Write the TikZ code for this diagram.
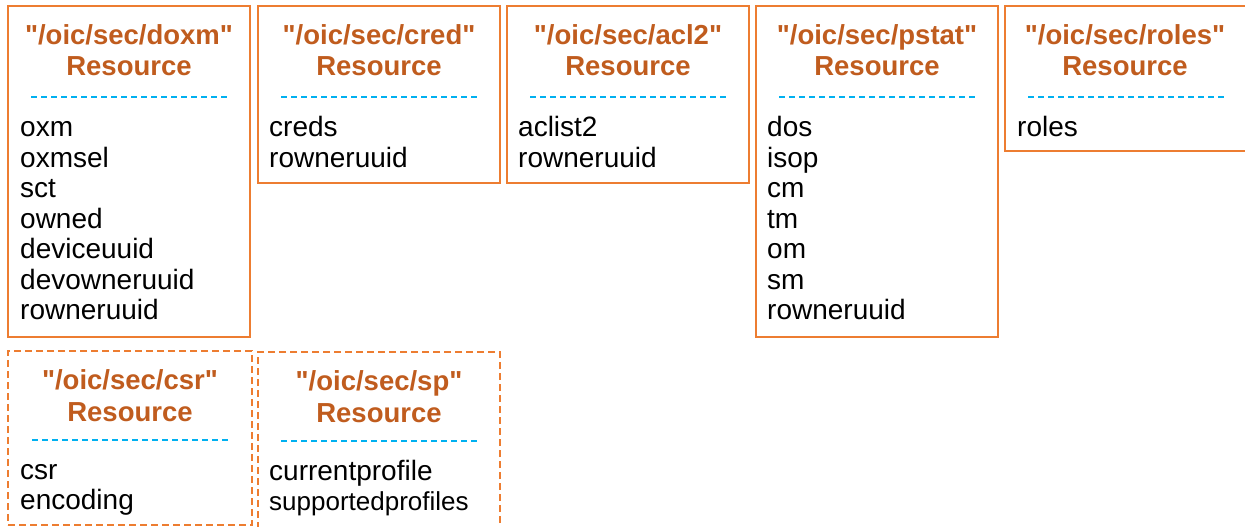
\documentclass[tikz,border=0pt]{standalone}
\usepackage{fontspec}
\setmainfont{Liberation Sans}[Ligatures=TeXOff]
\definecolor{resorange}{HTML}{ED7D31}
\definecolor{restitlecol}{HTML}{C05C1E}
\definecolor{sepblue}{HTML}{00B0F0}

\begin{document}
\begin{tikzpicture}[x=1pt, y=-1pt,
    resbox/.style={draw=resorange, line width=2.4pt, minimum width=242pt, inner sep=0pt},
    optbox/.style={resbox, dash pattern=on 7pt off 4pt},
    restitle/.style={anchor=base, align=center, inner sep=0pt, text=restitlecol, font=\fontsize{27.5}{31.5}\selectfont\bfseries},
    sepline/.style={draw=sepblue, line width=2.2pt, dash pattern=on 6pt off 4pt},
    field/.style={anchor=base west, inner sep=0pt, font=\fontsize{28}{30.5}\selectfont}]
    \useasboundingbox (0,0) rectangle (1245,527);

    % Upper row: mandatory resources
    \node[resbox, minimum height=331pt] (doxm) at (129,171.5) {};
    \node[restitle] (doxm-title) at (129,75.5) {"/oic/sec/doxm"\\Resource};
    \draw[sepline] (31,97) -- (227,97);
    \foreach \f [count=\i] in {oxm, oxmsel, sct, owned, deviceuuid, devowneruuid, rowneruuid}
        \node[field] (doxm-\i) at (20,{136.5+30.5*(\i-1)}) {\f};

    \node[resbox, minimum height=177pt] (cred) at (379,94.5) {};
    \node[restitle] (cred-title) at (379,75.5) {"/oic/sec/cred"\\Resource};
    \draw[sepline] (281,97) -- (477,97);
    \foreach \f [count=\i] in {creds, rowneruuid}
        \node[field] (cred-\i) at (269,{136.5+30.5*(\i-1)}) {\f};

    \node[resbox, minimum height=177pt] (acl2) at (628,94.5) {};
    \node[restitle] (acl2-title) at (628,75.5) {"/oic/sec/acl2"\\Resource};
    \draw[sepline] (530,97) -- (726,97);
    \foreach \f [count=\i] in {aclist2, rowneruuid}
        \node[field] (acl2-\i) at (518,{136.5+30.5*(\i-1)}) {\f};

    \node[resbox, minimum height=331pt] (pstat) at (877,171.5) {};
    \node[restitle] (pstat-title) at (877,75.5) {"/oic/sec/pstat"\\Resource};
    \draw[sepline] (779,97) -- (975,97);
    \foreach \f [count=\i] in {dos, isop, cm, tm, om, sm, rowneruuid}
        \node[field] (pstat-\i) at (767,{136.5+30.5*(\i-1)}) {\f};

    \node[resbox, minimum height=145pt] (roles) at (1126,78.5) {};
    \node[restitle] (roles-title) at (1125,75.5) {"/oic/sec/roles"\\Resource};
    \draw[sepline] (1028,97) -- (1224,97);
    \node[field] (roles-1) at (1017,136.5) {roles};

    % Lower row: optional resources (dashed)
    \node[optbox, minimum width=244pt, minimum height=174pt] (csr) at (130,438) {};
    \node[restitle] (csr-title) at (130,421) {"/oic/sec/csr"\\Resource};
    \draw[sepline] (32,440) -- (228,440);
    \foreach \f [count=\i] in {csr, encoding}
        \node[field] (csr-\i) at (20,{479+30.5*(\i-1)}) {\f};

    \node[optbox, minimum height=182pt] (sp) at (379,443) {};
    \node[restitle] (sp-title) at (379,422) {"/oic/sec/sp"\\Resource};
    \draw[sepline] (281,441) -- (477,441);
    \node[field] (sp-1) at (269,480.5) {currentprofile};
    \node[field, font=\fontsize{26}{30}\selectfont] (sp-2) at (269,510.5) {supportedprofiles};
\end{tikzpicture}
\end{document}
